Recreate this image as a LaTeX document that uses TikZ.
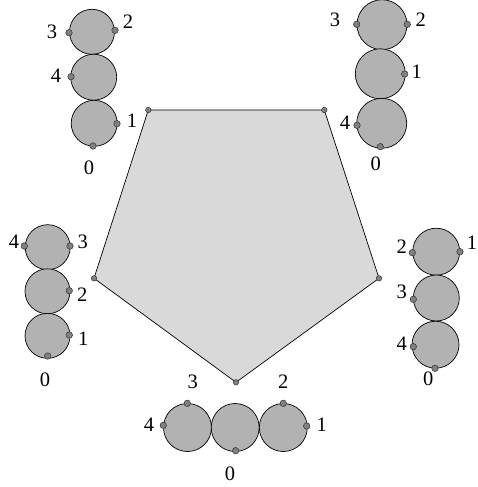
\documentclass[tikz,border=0pt]{standalone}
\usepackage{fontspec}
\setmainfont{Liberation Serif}
\definecolor{diskgray}{gray}{0.70}
\definecolor{polygray}{gray}{0.85}
\definecolor{dotgray}{gray}{0.50}
\begin{document}
\begin{tikzpicture}[x=1pt,y=-1pt,
  disk/.style={circle, draw=black, line width=0.7pt, fill=diskgray, inner sep=0pt, minimum size=#1},
  pt/.style={circle, draw=black!80, line width=0.5pt, fill=dotgray, inner sep=0pt, minimum size=6.5pt},
  vpt/.style={circle, draw=black!80, line width=0.5pt, fill=dotgray, inner sep=0pt, minimum size=5.5pt},
  lab/.style={inner sep=0pt, font=\fontsize{20.5}{20.5}\selectfont},
  edge/.style={line width=0.7pt, draw=black}]
\useasboundingbox (0,0) rectangle (478,487);
% pentagon
\coordinate (p1) at (148.3,110);
\coordinate (p2) at (324.3,110);
\coordinate (p3) at (379,278.3);
\coordinate (p4) at (236,382.3);
\coordinate (p5) at (94,278.3);
\fill[polygray] (p1) -- (p2) -- (p3) -- (p4) -- (p5) -- cycle;
\draw[edge] (p1) -- (p2) -- (p3) -- (p4) -- (p5) -- cycle;
\foreach \i in {1,...,5} \node[vpt] (v\i) at (p\i) {};
% top-left stack
\node[disk=45pt] (tl1) at (92,31.8) {};
\node[disk=46pt] (tl2) at (93.7,77.2) {};
\node[disk=46pt] (tl3) at (94.2,123.3) {};
\node[pt] (tla) at (69,32.7) {};
\node[pt] (tlb) at (115,30.3) {};
\node[pt] (tlc) at (71,76.7) {};
\node[pt] (tld) at (117,123.7) {};
\node[pt] (tle) at (93,146) {};
\node[lab] (tlla) at (52,32) {3};
\node[lab] (tllb) at (128,22) {2};
\node[lab] (tllc) at (56,76) {4};
\node[lab] (tlld) at (132,121) {1};
\node[lab] (tlle) at (89,168) {0};
% top-right stack
\node[disk=50pt] (tr1) at (382,24.7) {};
\node[disk=50pt] (tr2) at (380.3,73.8) {};
\node[disk=50pt] (tr3) at (381.7,123.3) {};
\node[pt] (tra) at (356.7,24.3) {};
\node[pt] (trb) at (407.3,24.3) {};
\node[pt] (trc) at (404.7,74) {};
\node[pt] (trd) at (357,125.3) {};
\node[pt] (tre) at (380.3,146.7) {};
\node[lab] (trla) at (335,20) {3};
\node[lab] (trlb) at (420.7,20) {2};
\node[lab] (trlc) at (416.7,71.7) {1};
\node[lab] (trld) at (345,122.7) {4};
\node[lab] (trle) at (375.7,163.3) {0};
% left stack
\node[disk=45pt] (l1) at (47.7,247.2) {};
\node[disk=45pt] (l2) at (47.5,291.3) {};
\node[disk=45pt] (l3) at (47.5,335.8) {};
\node[pt] (la) at (24.3,246) {};
\node[pt] (lb) at (70,246) {};
\node[pt] (lc) at (69.3,290.7) {};
\node[pt] (ld) at (69.3,335) {};
\node[pt] (le) at (47.7,356) {};
\node[lab] (lla) at (14,241.7) {4};
\node[lab] (llb) at (82.7,241.7) {3};
\node[lab] (llc) at (82.3,295) {2};
\node[lab] (lld) at (83.3,338.3) {1};
\node[lab] (lle) at (45,380) {0};
% right stack
\node[disk=47pt] (r1) at (436.2,251.7) {};
\node[disk=46pt] (r2) at (436.3,298) {};
\node[disk=47pt] (r3) at (435.5,344.7) {};
\node[pt] (ra) at (412.3,252.7) {};
\node[pt] (rb) at (460,251.7) {};
\node[pt] (rc) at (413.3,299.3) {};
\node[pt] (rd) at (413.3,346.7) {};
\node[pt] (re) at (435,368.3) {};
\node[lab] (rla) at (401.7,246.5) {2};
\node[lab] (rlb) at (472,243) {1};
\node[lab] (rlc) at (401.7,291.7) {3};
\node[lab] (rld) at (401.7,344) {4};
\node[lab] (rle) at (428.3,379) {0};
% bottom stack
\node[disk=48pt] (b1) at (187.5,427.5) {};
\node[disk=48pt] (b2) at (235.2,427.5) {};
\node[disk=48pt] (b3) at (283.3,427.5) {};
\node[pt] (ba) at (163.3,425.3) {};
\node[pt] (bb) at (187.3,403.3) {};
\node[pt] (bc) at (235.7,450.7) {};
\node[pt] (bd) at (283.3,403.3) {};
\node[pt] (be) at (306.7,426) {};
\node[lab] (bla) at (149,425) {4};
\node[lab] (blb) at (192.7,381.7) {3};
\node[lab] (blc) at (230,473.3) {0};
\node[lab] (bld) at (283.3,381.7) {2};
\node[lab] (ble) at (321.7,425) {1};
\end{tikzpicture}
\end{document}
